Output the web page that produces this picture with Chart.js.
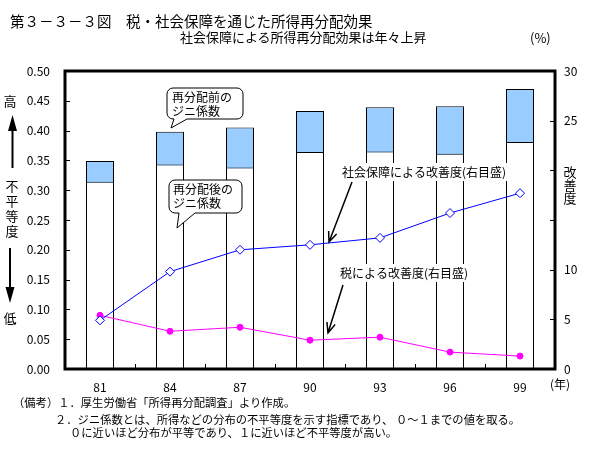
<!DOCTYPE html>
<html><head><meta charset="utf-8">
<script src="https://cdn.jsdelivr.net/npm/chart.js@4.4.1/dist/chart.umd.min.js"></script>
<style>
html,body{margin:0;padding:0;background:#fff;}
#wrap{position:relative;width:597px;height:475px;overflow:hidden;font-family:"Noto Sans CJK JP",sans-serif;color:#000;}
canvas{position:absolute;left:0;top:0;}
.t{position:absolute;white-space:nowrap;line-height:1;}
.n{font-size:11.3px;}
</style></head><body>
<div id="wrap">
<canvas id="c" width="597" height="475"></canvas>
<div class="t" style="left:10px;top:14px;font-size:14.5px">第３－３－３図　税・社会保障を通じた所得再分配効果</div>
<div class="t" style="left:180px;top:30px;font-size:13px">社会保障による所得再分配効果は年々上昇</div>
<div class="t" style="left:530px;top:31px;font-size:13px">(%)</div>
<div class="t n" style="left:13px;top:396.5px">（備考）１．厚生労働省「所得再分配調査」より作成。</div>
<div class="t n" style="left:55px;top:413.5px">２．ジニ係数とは、所得などの分布の不平等度を示す指標であり、 ０～１までの値を取る。</div>
<div class="t n" style="left:70px;top:426.5px">０に近いほど分布が平等であり、１に近いほど不平等度が高い。</div>
</div>
<script>
const categories = ['81','84','87','90','93','96','99'];
const giniBefore = [0.349, 0.398, 0.405, 0.433, 0.439, 0.441, 0.470];
const giniAfter  = [0.314, 0.343, 0.338, 0.364, 0.365, 0.361, 0.381];
const socialImprove = [4.9, 9.8, 12.0, 12.5, 13.2, 15.7, 17.7];
const taxImprove    = [5.4, 3.8, 4.2, 2.9, 3.2, 1.7, 1.3];
const leftTickStep = 0.05;
const rightTickStep = 5;
const rightHiddenTicks = [15, 20];

const FONT = '"Noto Sans CJK JP", sans-serif';

function bubble(ctx, x0, y0, x1, y1, r, tb1, tipX, tipY, tb2, lines, tx, ty0, dy) {
  ctx.beginPath();
  ctx.moveTo(x0 + r, y0);
  ctx.lineTo(x1 - r, y0);
  ctx.arcTo(x1, y0, x1, y0 + r, r);
  ctx.lineTo(x1, y1 - r);
  ctx.arcTo(x1, y1, x1 - r, y1, r);
  ctx.lineTo(tb2, y1);
  ctx.lineTo(tipX, tipY);
  ctx.lineTo(tb1, y1);
  ctx.lineTo(x0 + r, y1);
  ctx.arcTo(x0, y1, x0, y1 - r, r);
  ctx.lineTo(x0, y0 + r);
  ctx.arcTo(x0, y0, x0 + r, y0, r);
  ctx.closePath();
  ctx.fillStyle = '#fff';
  ctx.fill();
  ctx.lineWidth = 1;
  ctx.strokeStyle = '#000';
  ctx.stroke();
  ctx.fillStyle = '#000';
  ctx.font = '12px ' + FONT;
  ctx.textAlign = 'left';
  ctx.textBaseline = 'middle';
  lines.forEach((s, i) => ctx.fillText(s, tx, ty0 + i * dy));
}

function vArrow(ctx, x0, y0, x1, y1) {
  ctx.beginPath();
  ctx.moveTo(x0, y0);
  ctx.lineTo(x1, y1);
  const ang = Math.atan2(y1 - y0, x1 - x0);
  const L = 11, w = 0.4;
  ctx.moveTo(x1 - L * Math.cos(ang - w), y1 - L * Math.sin(ang - w));
  ctx.lineTo(x1, y1);
  ctx.lineTo(x1 - L * Math.cos(ang + w), y1 - L * Math.sin(ang + w));
  ctx.lineWidth = 1.5;
  ctx.strokeStyle = '#000';
  ctx.stroke();
}

function labelBox(ctx, s, x, y) {
  ctx.font = '12px ' + FONT;
  const w = ctx.measureText(s).width;
  ctx.fillStyle = '#fff';
  ctx.fillRect(x - 2, y - 9, w + 4, 18);
  ctx.fillStyle = '#000';
  ctx.textAlign = 'left';
  ctx.textBaseline = 'middle';
  ctx.fillText(s, x, y);
}

const annot = {
  id: 'annot',
  afterDatasetsDraw(chart) {
    const ctx = chart.ctx, a = chart.chartArea;
    const ys = chart.scales.y, y2s = chart.scales.y2, xs = chart.scales.x;
    ctx.save();
    ctx.strokeStyle = '#000';
    ctx.lineWidth = 1;
    ctx.beginPath();
    ys.ticks.forEach(t => {
      const p = Math.round(ys.getPixelForValue(t.value)) + 0.5;
      ctx.moveTo(a.left, p); ctx.lineTo(a.left + 5, p);
    });
    y2s.ticks.forEach(t => {
      const p = Math.round(y2s.getPixelForValue(t.value)) + 0.5;
      ctx.moveTo(a.right, p); ctx.lineTo(a.right - 5, p);
    });
    for (let i = 1; i < categories.length; i++) {
      const p = Math.round((xs.getPixelForValue(i - 1) + xs.getPixelForValue(i)) / 2) + 0.5;
      ctx.moveTo(p, a.bottom); ctx.lineTo(p, a.bottom - 5);
    }
    ctx.stroke();
    ctx.lineWidth = 3;
    ctx.strokeRect(a.left, a.top, a.right - a.left, a.bottom - a.top);

    bubble(ctx, 167, 88, 243, 119, 6, 174, 171, 128, 187, ['再分配前の', 'ジニ係数'], 172, 97, 14);
    bubble(ctx, 169, 180, 242, 213, 6, 179, 177, 228, 195, ['再分配後の', 'ジニ係数'], 173, 189, 14);

    labelBox(ctx, '社会保障による改善度(右目盛)', 342, 172);
    labelBox(ctx, '税による改善度(右目盛)', 340, 273);
    vArrow(ctx, 352, 182, 329, 242);
    vArrow(ctx, 343, 285, 328, 333);

    ctx.fillStyle = '#000';
    ctx.font = '13px ' + FONT;
    ctx.textAlign = 'center';
    ctx.textBaseline = 'middle';
    ctx.fillText('高', 10, 101);
    ['不', '平', '等', '度'].forEach((c, i) => ctx.fillText(c, 12, 186 + i * 15));
    ctx.fillText('低', 10, 318);
    ['改', '善', '度'].forEach((c, i) => ctx.fillText(c, 570, 172 + i * 13));
    ctx.lineWidth = 2;
    ctx.beginPath();
    ctx.moveTo(12.5, 168); ctx.lineTo(12.5, 125);
    ctx.moveTo(10, 248); ctx.lineTo(10, 292);
    ctx.stroke();
    ctx.beginPath();
    ctx.moveTo(12.5, 115); ctx.lineTo(8, 131); ctx.lineTo(17, 131); ctx.closePath();
    ctx.moveTo(10, 303); ctx.lineTo(5.5, 287); ctx.lineTo(14.5, 287); ctx.closePath();
    ctx.fill();
    ctx.font = '12px ' + FONT;
    ctx.fillText('(年)', 560, 384);
    ctx.restore();
  }
};

new Chart(document.getElementById('c'), {
  type: 'bar',
  data: {
    labels: categories,
    datasets: [
      {
        type: 'line', label: '社会保障による改善度', data: socialImprove, yAxisID: 'y2', order: 0,
        borderColor: '#0000FF', borderWidth: 1, backgroundColor: '#fff',
        pointStyle: 'rectRot', pointRadius: 4.5, pointBorderColor: '#0000FF', pointBackgroundColor: '#fff', pointBorderWidth: 1,
        tension: 0, fill: false
      },
      {
        type: 'line', label: '税による改善度', data: taxImprove, yAxisID: 'y2', order: 1,
        borderColor: '#FF00FF', borderWidth: 1, backgroundColor: '#FF00FF',
        pointStyle: 'circle', pointRadius: 3, pointBorderColor: '#FF00FF', pointBackgroundColor: '#FF00FF',
        tension: 0, fill: false
      },
      {
        label: '再分配後のジニ係数', data: giniAfter, yAxisID: 'y', order: 2, grouped: false,
        backgroundColor: '#FFFFFF', borderColor: '#000', borderWidth: 1,
        categoryPercentage: 1, barPercentage: 0.4
      },
      {
        label: '再分配前のジニ係数', data: giniBefore, yAxisID: 'y', order: 3, grouped: false,
        backgroundColor: '#99CCFF', borderColor: '#000', borderWidth: 1,
        categoryPercentage: 1, barPercentage: 0.4
      }
    ]
  },
  options: {
    responsive: false,
    animation: false,
    devicePixelRatio: 1,
    layout: { padding: { top: 71, left: 0, right: 0, bottom: 0 } },
    plugins: { legend: { display: false }, tooltip: { enabled: false }, title: { display: false } },
    scales: {
      x: {
        type: 'category', offset: true,
        grid: { display: false }, border: { display: false },
        ticks: { color: '#000', font: { family: FONT, size: 12 }, padding: 3, maxRotation: 0, autoSkip: false },
        afterFit(s) { s.height = 106; }
      },
      y: {
        position: 'left', min: 0, max: 0.5,
        grid: { display: false, drawTicks: false }, border: { display: false },
        ticks: { stepSize: leftTickStep, color: '#000', font: { family: FONT, size: 12 }, padding: 15,
          callback: v => Number(v).toFixed(2) },
        afterFit(s) { s.width = 65; }
      },
      y2: {
        position: 'right', min: 0, max: 30,
        grid: { display: false, drawTicks: false }, border: { display: false },
        ticks: { stepSize: rightTickStep, color: '#000', font: { family: FONT, size: 12 }, padding: 9,
          callback: v => rightHiddenTicks.includes(Math.round(v)) ? '' : String(Math.round(v)) },
        afterFit(s) { s.width = 42; }
      }
    }
  },
  plugins: [annot]
});
</script>
</body></html>
